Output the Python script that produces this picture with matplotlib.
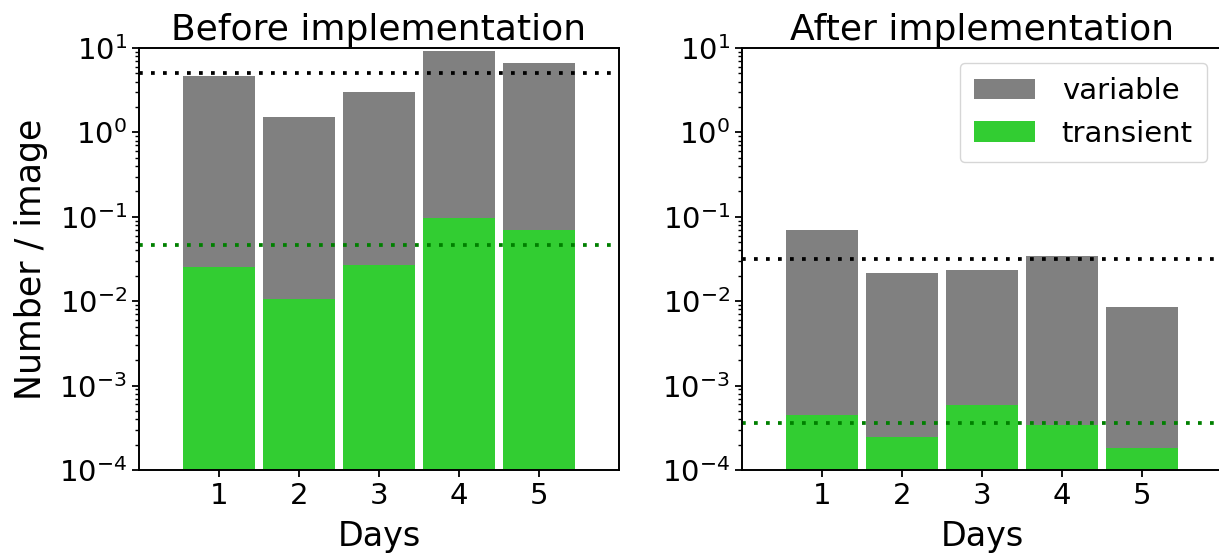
import matplotlib.pyplot as plt
import numpy as np

days = [1, 2, 3, 4, 5]

# detections per image, before and after the change
before_variable = [4.67, 1.52, 3.02, 9.2, 6.64]
before_transient = [0.0256, 0.0105, 0.0268, 0.0973, 0.0701]
after_variable = [0.0701, 0.0217, 0.0236, 0.0345, 0.0086]
after_transient = [0.000446, 0.000249, 0.000585, 0.000345, 0.000180]

titles = ['Before implementation', 'After implementation']

W, H = 1219, 559
fig = plt.figure(figsize=(W / 100, H / 100), dpi=100)
ax1 = fig.add_axes([139 / W, (H - 470) / H, 480 / W, 422 / H])
ax2 = fig.add_axes([742 / W, (H - 470) / H, 480 / W, 422 / H])


def draw(ax, variable, transient, title):
    ax.bar(days, variable, width=0.9, color='gray', label='variable')
    ax.bar(days, transient, width=0.9, color='limegreen', label='transient')
    ax.axhline(np.mean(variable), color='black', lw=2.7, ls=(0, (1, 2.2)))
    ax.axhline(np.mean(transient), color='green', lw=2.7, ls=(0, (1, 2.2)))
    ax.set_yscale('log')
    ax.set_ylim(1e-4, 1e1)
    ax.set_xlim(0, 6)
    ax.set_xticks(days)
    ax.set_xlabel('Days', fontsize=24, labelpad=7)
    ax.set_title(title, fontsize=26)
    ax.tick_params(labelsize=21, length=5, width=1.3)
    ax.tick_params(which='minor', length=3, width=1.0)
    for sp in ax.spines.values():
        sp.set_linewidth(1.4)


draw(ax1, before_variable, before_transient, titles[0])
draw(ax2, after_variable, after_transient, titles[1])
ax1.set_ylabel('Number / image', fontsize=25, labelpad=8)
ax2.legend(loc='upper right', fontsize=21, handlelength=2.1,
           handletextpad=0.9, borderpad=0.5)

fig.savefig('out.png', dpi=100)
